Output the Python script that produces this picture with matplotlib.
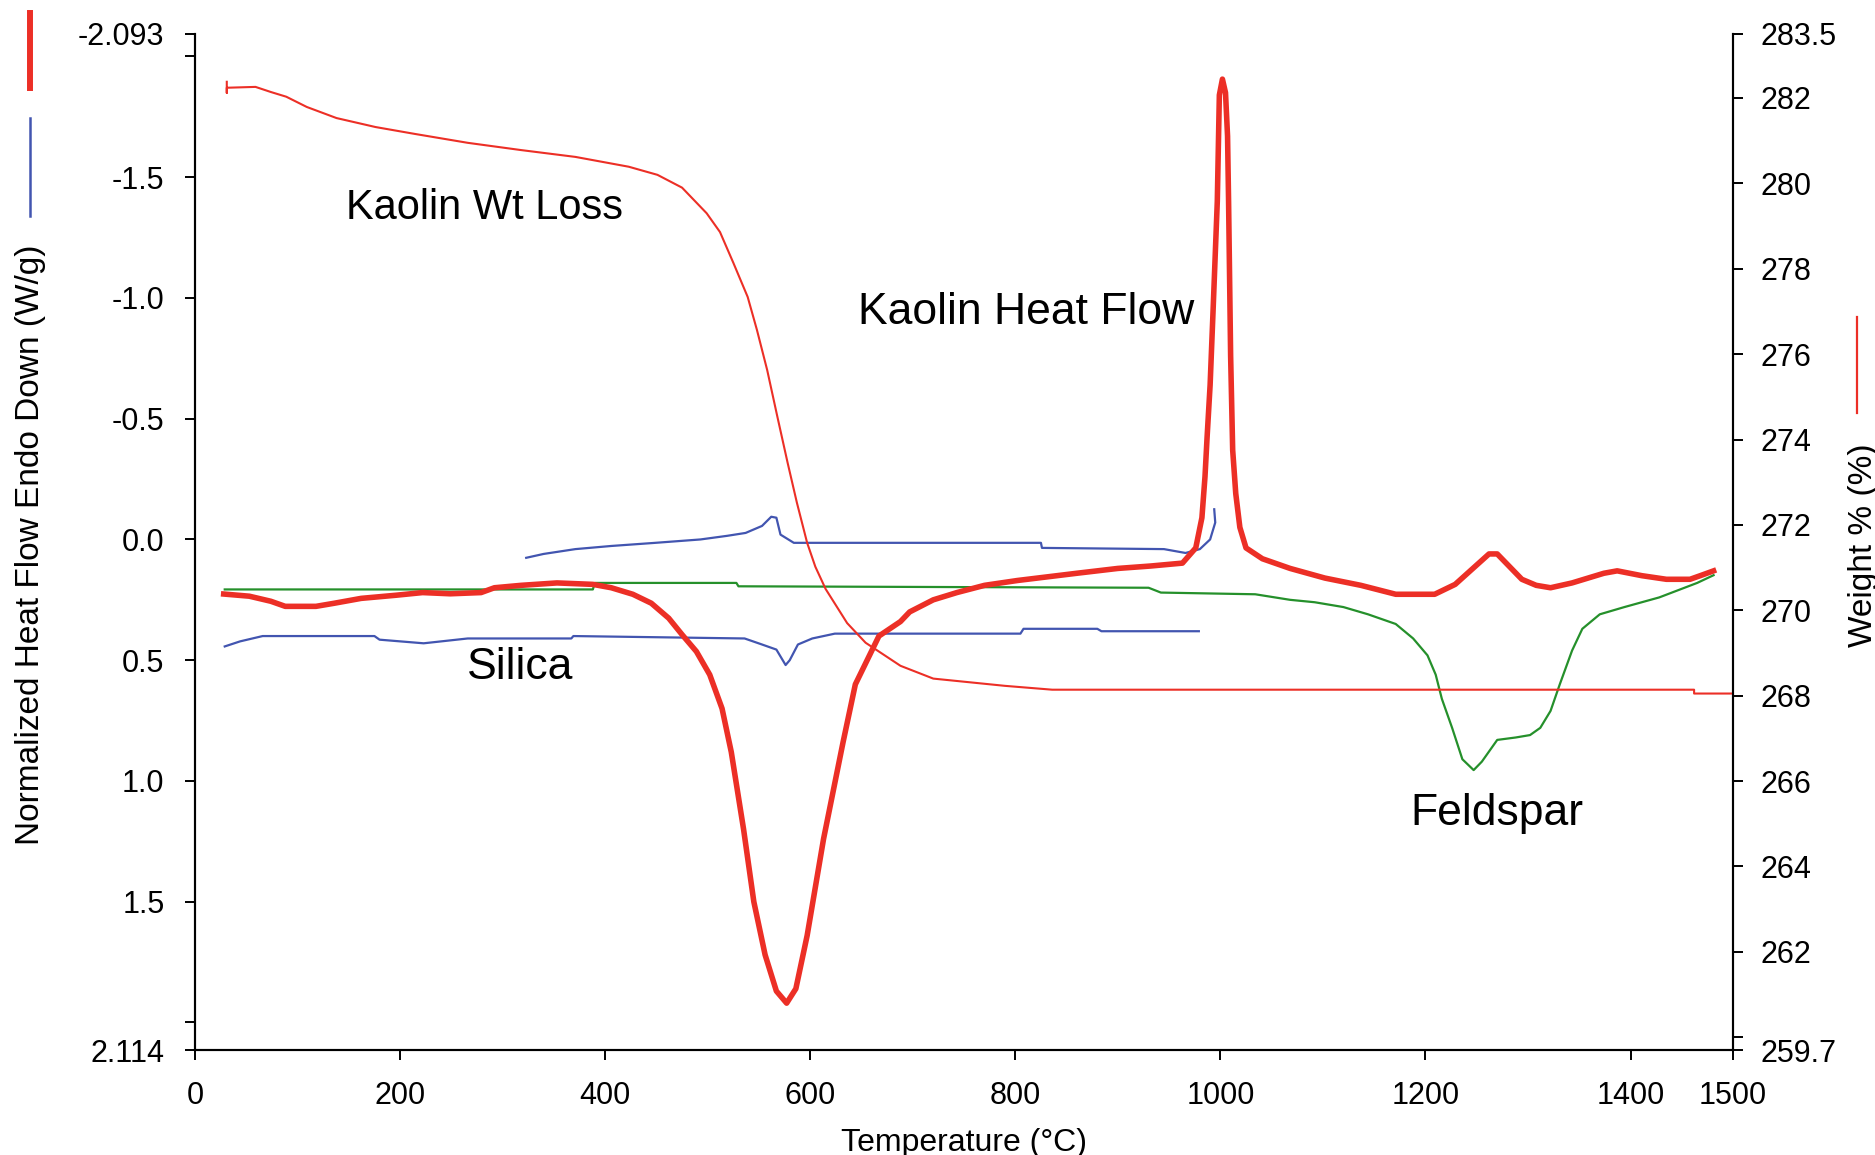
import matplotlib.pyplot as plt
from matplotlib.lines import Line2D

plt.rcParams["font.family"] = ["Liberation Sans", "DejaVu Sans"]

# kaolin DSC trace (W/g, endo down -> axis inverted)
kaolin_t = [28, 53, 74, 88, 118, 136, 162, 196, 222, 249, 279, 292, 318, 353, 388,
            406, 427, 445, 462, 475, 489, 502, 514, 523, 535, 545, 556, 567, 577,
            586, 597, 613, 632, 644, 667, 688, 697, 720, 743, 770, 802, 860, 900,
            932, 963, 976, 982, 985, 987, 990, 993, 997, 999, 1002, 1005, 1007,
            1008, 1010, 1012, 1015, 1019, 1025, 1041, 1068, 1102, 1137, 1171, 1209,
            1229, 1262, 1270, 1294, 1308, 1322, 1343, 1374, 1387, 1411, 1435, 1458,
            1468, 1481]
kaolin_hf = [0.226, 0.235, 0.256, 0.277, 0.277, 0.264, 0.244, 0.231, 0.22, 0.225,
             0.22, 0.2, 0.19, 0.18, 0.186, 0.2, 0.227, 0.264, 0.326, 0.394, 0.464,
             0.56, 0.70, 0.88, 1.2, 1.5, 1.72, 1.87, 1.92, 1.86, 1.64, 1.24, 0.84,
             0.60, 0.40, 0.34, 0.30, 0.25, 0.22, 0.19, 0.17, 0.14, 0.12, 0.11,
             0.098, 0.035, -0.09, -0.26, -0.42, -0.64, -0.96, -1.40, -1.84, -1.906,
             -1.85, -1.67, -1.40, -0.76, -0.37, -0.19, -0.05, 0.035, 0.08, 0.12,
             0.16, 0.19, 0.227, 0.227, 0.186, 0.06, 0.06, 0.165, 0.19, 0.20, 0.18,
             0.14, 0.13, 0.15, 0.165, 0.165, 0.15, 0.13]

# silica, upper and lower traces
silica_up_t = [323, 340, 371, 406, 449, 493, 519, 537, 553, 562, 567, 571, 584,
               688, 825, 826, 945, 966, 980, 990, 995, 994]
silica_up_hf = [0.076, 0.06, 0.04, 0.027, 0.014, 0.0, -0.015, -0.027, -0.056,
                -0.094, -0.09, -0.02, 0.014, 0.014, 0.014, 0.035, 0.04, 0.056,
                0.04, 0.0, -0.07, -0.125]
silica_lo_t = [29, 44, 66, 175, 180, 223, 266, 367, 369, 536, 553, 567, 576, 580,
               588, 602, 624, 805, 808, 880, 884, 979]
silica_lo_hf = [0.443, 0.422, 0.40, 0.40, 0.415, 0.43, 0.41, 0.41, 0.40, 0.41,
                0.435, 0.456, 0.52, 0.50, 0.435, 0.41, 0.39, 0.39, 0.37, 0.37,
                0.38, 0.38]

# feldspar
feld_t = [29, 388, 390, 528, 530, 930, 942, 1034, 1068, 1092, 1120, 1144, 1171,
          1188, 1202, 1210, 1216, 1226, 1236, 1247, 1255, 1270, 1288, 1302, 1312,
          1322, 1331, 1343, 1353, 1370, 1394, 1428, 1465, 1481]
feld_hf = [0.207, 0.207, 0.18, 0.18, 0.194, 0.20, 0.22, 0.227, 0.25, 0.26, 0.28,
           0.31, 0.35, 0.41, 0.48, 0.56, 0.66, 0.78, 0.91, 0.955, 0.92, 0.83, 0.82,
           0.81, 0.78, 0.71, 0.60, 0.46, 0.37, 0.31, 0.28, 0.24, 0.18, 0.148]

# kaolin TGA (weight %, right axis)
wt_t = [31, 31, 31, 59, 74, 89, 109, 138, 176, 214, 266, 318, 371, 423, 451, 475,
        499, 512, 525, 539, 548, 558, 568, 578, 587, 597, 605, 615, 636, 654, 688,
        720, 790, 836, 1462, 1462, 1500]
wt_pct = [282.38, 282.12, 282.24, 282.26, 282.14, 282.03, 281.79, 281.53, 281.32,
          281.16, 280.95, 280.78, 280.62, 280.39, 280.2, 279.9, 279.3, 278.86,
          278.14, 277.34, 276.57, 275.63, 274.53, 273.45, 272.52, 271.58, 271.02,
          270.5, 269.7, 269.24, 268.7, 268.4, 268.23, 268.14, 268.14, 268.05,
          268.05]

hf_ticks = [-2.093, -2.0, -1.5, -1.0, -0.5, 0.0, 0.5, 1.0, 1.5, 2.0, 2.114]
hf_labels = ["-2.093", "", "-1.5", "-1.0", "-0.5", "0.0", "0.5", "1.0", "1.5", "", "2.114"]
wt_ticks = [259.7, 260, 262, 264, 266, 268, 270, 272, 274, 276, 278, 280, 282, 283.5]
wt_labels = ["259.7", "", "262", "264", "266", "268", "270", "272", "274", "276",
             "278", "280", "282", "283.5"]
t_ticks = [0, 200, 400, 600, 800, 1000, 1200, 1400, 1500]

RED = "#ec2f26"
BLUE = "#4255b0"
GREEN = "#25902b"

fig = plt.figure(figsize=(18.75, 11.55), dpi=100)
ax = fig.add_axes([0.104, 0.0909, 0.8203, 0.8797])
ax2 = ax.twinx()

ax.plot(feld_t, feld_hf, color=GREEN, lw=1.6)
ax.plot(silica_lo_t, silica_lo_hf, color=BLUE, lw=1.6)
ax.plot(silica_up_t, silica_up_hf, color=BLUE, lw=1.6)
ax.plot(kaolin_t, kaolin_hf, color=RED, lw=4.0)
ax2.plot(wt_t, wt_pct, color=RED, lw=1.5)

ax.set_xlim(0, 1500)
ax.set_ylim(2.114, -2.093)
ax2.set_ylim(259.7, 283.5)

ax.set_xticks(t_ticks)
ax.set_yticks(hf_ticks)
ax.set_yticklabels(hf_labels)
ax2.set_yticks(wt_ticks)
ax2.set_yticklabels(wt_labels)

for a in (ax, ax2):
    a.spines["top"].set_visible(False)
    for s in a.spines.values():
        s.set_linewidth(1.5)
ax.tick_params(axis="both", direction="out", length=7, width=1.4, labelsize=22)
ax.tick_params(axis="y", pad=15)
ax.tick_params(axis="x", pad=15)
ax2.tick_params(axis="y", direction="out", length=7, width=1.4, labelsize=22, pad=13)

ax.set_xlabel("Temperature (°C)", fontsize=23)
ax.xaxis.set_label_coords(0.5, -0.092)
ax.xaxis.label.set_va("center")
ax.set_ylabel("Normalized Heat Flow Endo Down (W/g)", fontsize=24)
ax.yaxis.set_label_coords(-0.107, 0.497)
ax.yaxis.label.set_va("center")
ax2.set_ylabel("Weight % (%)", fontsize=24)
ax2.yaxis.set_label_coords(1.0845, 0.497)
ax2.yaxis.label.set_va("center")

# curve labels
ax.text(282, -1.371, "Kaolin Wt Loss", fontsize=30, ha="center", va="center")
ax.text(811, -0.938, "Kaolin Heat Flow", fontsize=32, ha="center", va="center")
ax.text(317, 0.53, "Silica", fontsize=32, ha="center", va="center")
ax.text(1270, 1.134, "Feldspar", fontsize=32, ha="center", va="center")

# colour keys beside the axis titles
fig.add_artist(Line2D([0.016, 0.016], [0.9887, 0.9238], color=RED, lw=4.3))
fig.add_artist(Line2D([0.016, 0.016], [0.8978, 0.8130], color=BLUE, lw=1.8))
fig.add_artist(Line2D([0.9904, 0.9904], [0.7255, 0.6424], color=RED, lw=1.6))

fig.savefig("out.png", dpi=100)
